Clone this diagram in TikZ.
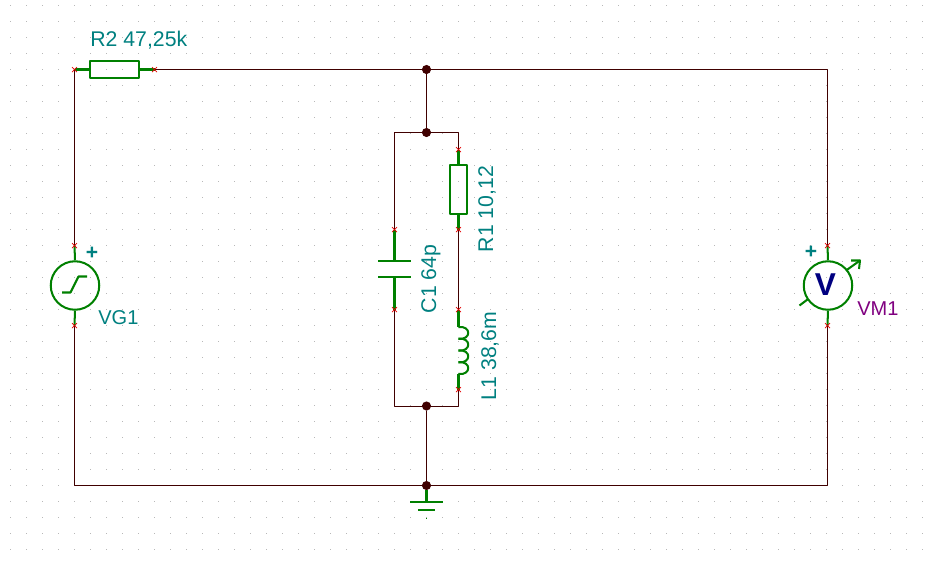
\documentclass[tikz,border=0pt]{standalone}
\usepackage{fontspec}
\setmainfont{Liberation Sans}
\definecolor{wirecol}{HTML}{400000}
\definecolor{compcol}{HTML}{008000}
\definecolor{labelcol}{HTML}{008080}
\definecolor{metercol}{HTML}{800080}
\definecolor{voltcol}{HTML}{000080}
\definecolor{griddot}{HTML}{B8B8B8}
\tikzset{
	wire/.style={wirecol, line width=.57pt},
	comp/.style={compcol, line width=1.15pt, line cap=butt},
	plate/.style={compcol, line width=1.1pt, line cap=butt},
	part/.style={draw=compcol, line width=1.15pt, fill=none, inner sep=0pt},
	lbl/.style={labelcol, font=\fontsize{12.1}{14}\selectfont, inner sep=0pt},
	pinmark/.style={red!90!black, line width=.4pt, line cap=butt},
	junct/.style={circle, fill=wirecol, minimum size=5.2pt, inner sep=0pt}
}
\newcommand{\pinx}[1]{\draw[pinmark] ([xshift=-.05cm,yshift=-.05cm]#1)--([xshift=.05cm,yshift=.05cm]#1) ([xshift=-.05cm,yshift=.05cm]#1)--([xshift=.05cm,yshift=-.05cm]#1);}
\begin{document}
\begin{tikzpicture}[x=.02cm, y=-.02cm, line join=round, line cap=round, >=stealth]
	\useasboundingbox (0,0) rectangle (938,566);
	% grid
	\foreach \x in {0,...,57} \foreach \y in {0,...,34}
		\fill[griddot] ({10.5+16*\x-.5},{5.5+16*\y-.5}) rectangle ++(1,1);
	% corners and junctions
	\coordinate (tl) at (74.5,69.5);
	\coordinate (tr) at (827.5,69.5);
	\coordinate (bl) at (74.5,485.5);
	\coordinate (br) at (827.5,485.5);
	\node[junct] (jtop) at (426.5,69.5) {};
	\node[junct] (jup) at (426.5,132.5) {};
	\node[junct] (jlow) at (426.5,406) {};
	\node[junct] (jgnd) at (426.5,485.5) {};
	\coordinate (upl) at (394.5,132.5);
	\coordinate (upr) at (458.5,132.5);
	\coordinate (lowl) at (394.5,406);
	\coordinate (lowr) at (458.5,406);
	% pins
	\coordinate (r2a) at (74.5,69.5);
	\coordinate (r2b) at (154.5,69.5);
	\coordinate (r1a) at (458.5,149.5);
	\coordinate (r1b) at (458.5,229.5);
	\coordinate (l1a) at (458.5,309.5);
	\coordinate (l1b) at (458.5,389.5);
	\coordinate (c1a) at (394.5,229.5);
	\coordinate (c1b) at (394.5,309.5);
	\coordinate (vga) at (74.5,245.5);
	\coordinate (vgb) at (74.5,325.5);
	\coordinate (vma) at (827.5,245.5);
	\coordinate (vmb) at (827.5,325.5);
	% wires
	\draw[wire] (vga)--(tl)--(r2a);
	\draw[wire] (r2b)--(jtop)--(tr)--(vma);
	\draw[wire] (vgb)--(bl)--(jgnd)--(br)--(vmb);
	\draw[wire] (jtop)--(jup);
	\draw[wire] (c1a)--(upl)--(jup)--(upr)--(r1a);
	\draw[wire] (r1b)--(l1a);
	\draw[wire] (c1b)--(lowl)--(jlow)--(lowr)--(l1b);
	\draw[wire] (jlow)--(jgnd);
	% resistors
	\node[part, minimum width=.98cm, minimum height=.34cm] (R2) at (114.5,69.5) {};
	\node[part, minimum width=.34cm, minimum height=.98cm] (R1) at (458.5,189.5) {};
	\draw[comp] (r2a)--(R2.west) (R2.east)--(r2b);
	\draw[comp] (r1a)--(R1.north) (R1.south)--(r1b);
	% capacitor
	\coordinate (c1p) at (394.5,261);
	\coordinate (c1q) at (394.5,277);
	\draw[comp] (c1a)--(c1p) (c1q)--(c1b);
	\draw[plate] ([xshift=-.33cm]c1p)--([xshift=.33cm]c1p);
	\draw[plate] ([xshift=-.33cm]c1q)--([xshift=.33cm]c1q);
	% inductor
	\coordinate (l1p) at (458.5,327);
	\coordinate (l1q) at (458.5,374);
	\draw[comp] (l1a)--(l1p);
	\draw[comp] (l1q)--(l1b);
	\foreach \y in {327,338.75,350.5,362.25}
		\draw[comp] (458.5,\y) .. controls (471.5,{\y-1.5}) and (471.5,{\y+13.25}) .. (458.5,{\y+11.75});
	% sources
	\node[part, circle, minimum size=.97cm] (VG) at (75,285.5) {};
	\node[part, circle, minimum size=.97cm] (VM) at (828,285.5) {};
	\draw[comp] (vga)--(VG.north) (VG.south)--(vgb);
	\draw[comp] (vma)--(VM.north) (VM.south)--(vmb);
	\draw[comp] (62,292.5)--(70.5,292.5)--(78.5,276.5)--(87,276.5);
	\node[font=\bfseries\fontsize{18}{18}\selectfont, text=voltcol, inner sep=0pt] (Vtxt) at (825.5,284.5) {V};
	\draw[comp] (846,270.5)--(860,260.5);
	\draw[comp] (851,260.5)--(860,260.5)--(859,269);
	\draw[comp] (799.5,305.5)--(807.5,299.5);
	% pin marks
	\foreach \p in {r2a,r2b,r1a,r1b,l1a,l1b,c1a,c1b,vga,vgb,vma,vmb,jgnd}
		\pinx{\p}
	% ground
	\coordinate (g1) at (426.5,502);
	\coordinate (g2) at (426.5,510);
	\coordinate (g3) at (426.5,518);
	\draw[comp] (jgnd)--(g1);
	\draw[plate] ([xshift=-.33cm]g1)--([xshift=.33cm]g1);
	\draw[plate] ([xshift=-.17cm]g2)--([xshift=.17cm]g2);
	\fill[compcol] (426,517.5) rectangle ++(1,1);
	% labels
	\node[lbl, anchor=west] (lr2) at (90,40) {R2 47,25k};
	\node[lbl, rotate=90] (lr1) at (487,209) {R1 10,12};
	\node[lbl, rotate=90] (lc1) at (431,279) {C1 64p};
	\node[lbl, rotate=90] (ll1) at (490,356) {L1 38,6m};
	\node[lbl, anchor=west, font=\fontsize{11.4}{14}\selectfont] (lvg) at (98,318) {VG1};
	\node[lbl, anchor=west, font=\fontsize{11.4}{14}\selectfont, text=metercol] (lvm) at (857,309) {VM1};
	\node[lbl, font=\bfseries\fontsize{12}{12}\selectfont] (pvg) at (92,253) {+};
	\node[lbl, font=\bfseries\fontsize{12}{12}\selectfont] (pvm) at (811,252) {+};
\end{tikzpicture}
\end{document}
